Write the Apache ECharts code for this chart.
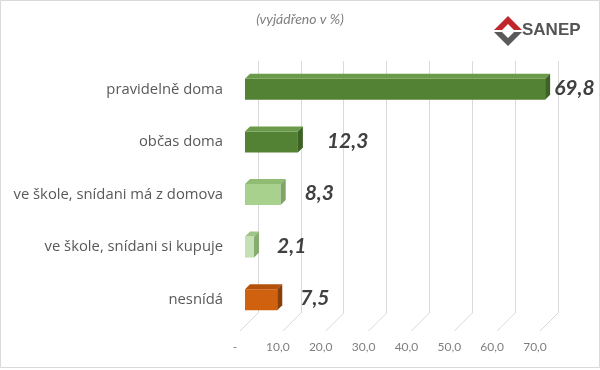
<!DOCTYPE html>
<html><head><meta charset="utf-8">
<script src="https://cdn.jsdelivr.net/npm/echarts@6/dist/echarts.min.js"></script>
<style>html,body{margin:0;padding:0;background:#fff}#c{width:600px;height:370px}</style>
</head><body><div id="c"></div>
<script>
const categories = ['pravidelně doma','občas doma','ve škole, snídani má z domova','ve škole, snídani si kupuje','nesnídá'];
const values = [69.8, 12.3, 8.3, 2.1, 7.5];
const valueLabels = ['69,8','12,3','8,3','2,1','7,5'];
const ticks = [0,10,20,30,40,50,60,70];
const tickLabels = ['-','10,0','20,0','30,0','40,0','50,0','60,0','70,0'];

const faceColors = [
  {front:'#548235', top:'#6b9a4a', side:'#3d6226'},
  {front:'#548235', top:'#6b9a4a', side:'#3d6226'},
  {front:'#a9d18e', top:'#8fbb72', side:'#7ea466'},
  {front:'#c5e0b4', top:'#9fc488', side:'#86ac70'},
  {front:'#d0610f', top:'#b4520c', side:'#8a3e09'}
];
const labelGap = [4, 24, 19, 18, 18];

const chart = echarts.init(document.getElementById('c'), null, {renderer:'canvas'});
const FONT = 'Lato, "Open Sans", sans-serif';
const LFONT = '"Open Sans", Lato, sans-serif';
const D = 5, H = 21;

chart.setOption({
  animation:false,
  graphic:[
    {type:'rect', shape:{x:0.5,y:0.5,width:599,height:367}, style:{fill:'none', stroke:'#d9d9d9', lineWidth:1}, z:0},
    {type:'text', left:'center', top:12, style:{text:'(vyjádřeno v %)', font:'italic 14px '+FONT, fill:'#7f7f7f'}},
    {type:'group', children:[
      {type:'polygon', shape:{points:[[494,30],[508,16],[522,30],[514,30],[508,24],[502,30]]}, style:{fill:'#c0272d'}},
      {type:'polygon', shape:{points:[[494,32],[502,32],[508,38],[514,32],[522,32],[508,46]]}, style:{fill:'#5a5a5a'}},
      {type:'text', x:522, y:22, style:{text:'SANEP', font:'bold 17px Arial, "Liberation Sans", sans-serif', fill:'#555555'}}
    ]}
  ],
  grid:[
    {left:245, right:54, top:63, bottom:44},
    {left:258, right:42, top:61, bottom:57},
    {left:235, right:65, top:61, bottom:36}
  ],
  xAxis:[
    {gridIndex:0, type:'value', min:0, max:70, interval:10, show:false},
    {gridIndex:1, type:'value', min:0, max:70, interval:10, axisLine:{show:false}, axisTick:{show:false}, axisLabel:{show:false},
      splitLine:{show:true, lineStyle:{color:'#d9d9d9', width:1}}},
    {gridIndex:2, type:'value', min:0, max:70, interval:10, axisLine:{show:false}, axisTick:{show:false}, splitLine:{show:false},
      axisLabel:{margin:7, color:'#7f7f7f', fontSize:12, fontFamily:FONT, formatter:(v)=>tickLabels[ticks.indexOf(v)]}}
  ],
  yAxis:[
    {gridIndex:0, type:'category', data:categories, inverse:true, axisLine:{show:false}, axisTick:{show:false}, splitLine:{show:false},
      axisLabel:{margin:22, color:'#595959', fontSize:14.8, fontFamily:LFONT}},
    {gridIndex:1, type:'value', min:0, max:1, show:false},
    {gridIndex:2, type:'value', min:0, max:1, show:false}
  ],
  series:[
    {type:'custom', xAxisIndex:1, yAxisIndex:1, silent:true, z:1,
      data: ticks.map(t=>[t,0]),
      renderItem:(params, api)=>{
        const p = api.coord([api.value(0), 0]);
        return {type:'line', shape:{x1:p[0], y1:p[1], x2:p[0]-18, y2:p[1]+18}, style:{stroke:'#d9d9d9', lineWidth:1}};
      }},
    {type:'custom', xAxisIndex:0, yAxisIndex:0, silent:true, z:5,
      data: values.map((v,i)=>[v,i]),
      renderItem:(params, api)=>{
        const i = params.dataIndex;
        const v = api.value(0);
        const p0 = api.coord([0, i]);
        const p1 = api.coord([v, i]);
        const x0 = p0[0], x1 = p1[0], yt = p0[1]-H/2, yb = p0[1]+H/2;
        const c = faceColors[i];
        return {type:'group', children:[
          {type:'rect', shape:{x:x0, y:yt, width:x1-x0, height:H}, style:{fill:c.front}},
          {type:'polygon', shape:{points:[[x0,yt],[x1,yt],[x1+D,yt-D],[x0+D,yt-D]]}, style:{fill:c.top}},
          {type:'polygon', shape:{points:[[x1,yt],[x1+D,yt-D],[x1+D,yb-D],[x1,yb]]}, style:{fill:c.side}},
          {type:'text', x:x1+D+labelGap[i], y:p0[1]-1, style:{text:valueLabels[i], font:'italic bold 21px '+FONT, fill:'#404040', verticalAlign:'middle', align:'left'}}
        ]};
      }}
  ]
});
</script></body></html>
